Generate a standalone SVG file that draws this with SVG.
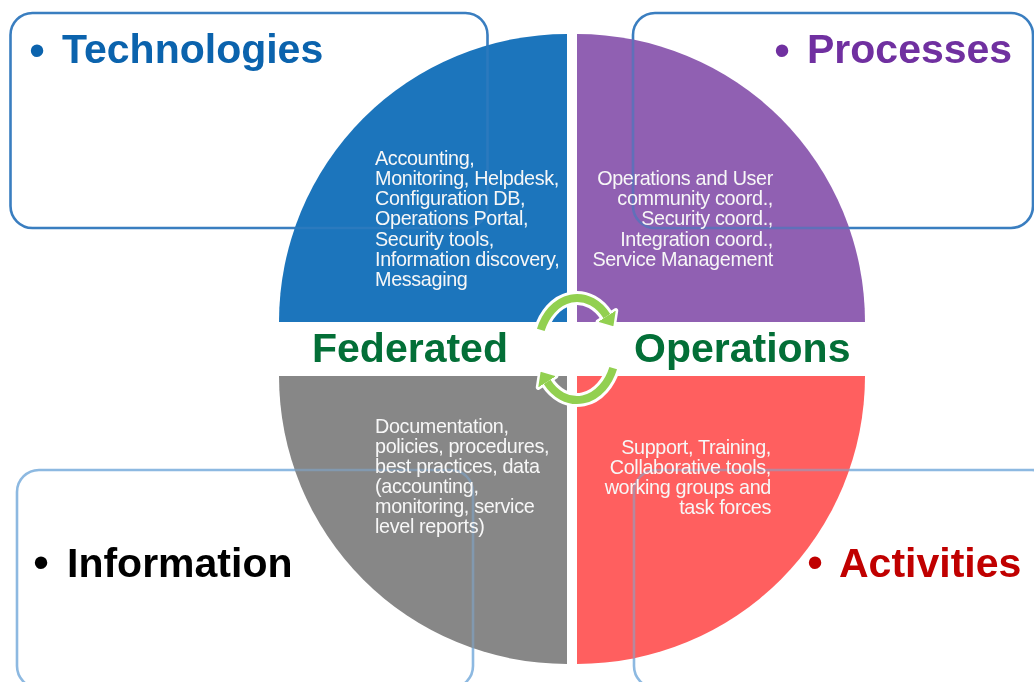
<svg xmlns="http://www.w3.org/2000/svg" width="1034" height="682" viewBox="0 0 1034 682">
<style>
.box{fill:none;stroke-width:2.6}
.boxTop{stroke:#3A7EC0}
.boxBot{stroke:#8DB9E1}
.over{fill:none;stroke-width:2.6;mix-blend-mode:multiply}
.head{font-family:"Liberation Sans",Arial,sans-serif;font-size:41px;font-weight:bold}
.bul{font-family:"Liberation Sans",Arial,sans-serif;font-size:46px}
.q{font-family:"Liberation Sans",Arial,sans-serif;font-size:19.8px;fill:#F7F7F7;letter-spacing:-0.35px}
.fo{font-family:"Liberation Sans",Arial,sans-serif;font-size:41px;font-weight:bold;fill:#036F37}
.ring{fill:none;stroke:#92D050;stroke-width:8}
.halo{fill:none;stroke:#FFFFFF;stroke-width:14}
</style>
<defs>
<marker id="ah" markerUnits="userSpaceOnUse" viewBox="0 0 12 21" refX="0" refY="10.5" markerWidth="12" markerHeight="21" orient="auto">
<path d="M0,0 L12,10.5 L0,21 Z" fill="#92D050"/>
</marker>
<marker id="ahw" markerUnits="userSpaceOnUse" viewBox="-3 -3 18 27" refX="0" refY="10.5" markerWidth="18" markerHeight="27" orient="auto">
<path d="M0,0 L12,10.5 L0,21 Z" fill="#FFFFFF" stroke="#FFFFFF" stroke-width="5" stroke-linejoin="round"/>
</marker>
<clipPath id="circ">
<path d="M567,322 L279,322 A288,288 0 0 1 567,34 Z M577,322 L577,34 A288,288 0 0 1 865,322 Z M567,376 L567,664 A288,288 0 0 1 279,376 Z M577,376 L865,376 A288,288 0 0 1 577,664 Z"/>
</clipPath>
</defs>
<rect width="1034" height="682" fill="#FFFFFF"/>

<g id="box-technologies">
<rect class="box boxTop" x="10.5" y="13" width="477" height="215" rx="22"/>
<text class="bul" x="29" y="66" fill="#0B63AD">•</text>
<text class="head" x="62" y="63" fill="#0B63AD">Technologies</text>
</g>
<g id="box-processes">
<rect class="box boxTop" x="633" y="13" width="400" height="215" rx="22"/>
<text class="bul" x="774" y="66" fill="#7030A0">•</text>
<text class="head" x="807" y="63" fill="#7030A0">Processes</text>
</g>
<g id="box-information">
<rect class="box boxBot" x="17" y="470" width="456" height="218" rx="22"/>
<text class="bul" x="33" y="578" fill="#000000">•</text>
<text class="head" x="67" y="577" fill="#000000">Information</text>
</g>
<g id="box-activities">
<rect class="box boxBot" x="634" y="470" width="420" height="218" rx="22"/>
<text class="bul" x="807" y="578" fill="#C00000">•</text>
<text class="head" x="839" y="577" fill="#C00000">Activities</text>
</g>

<g id="quadrant-technologies">
<path d="M567,322 L279,322 A288,288 0 0 1 567,34 Z" fill="#1C75BC"/>
</g>
<g id="quadrant-processes">
<path d="M577,322 L577,34 A288,288 0 0 1 865,322 Z" fill="#9060B2"/>
</g>
<g id="quadrant-information">
<path d="M567,376 L567,664 A288,288 0 0 1 279,376 Z" fill="#878787"/>
</g>
<g id="quadrant-activities">
<path d="M577,376 L865,376 A288,288 0 0 1 577,664 Z" fill="#FF5F5F"/>
</g>

<g id="box-outlines-through" clip-path="url(#circ)" opacity="0.55">
<rect class="over" x="10.5" y="13" width="477" height="215" rx="22" stroke="#3A7EC0"/>
<rect class="over" x="633" y="13" width="400" height="215" rx="22" stroke="#3A7EC0"/>
<rect class="over" x="17" y="470" width="456" height="218" rx="22" stroke="#7FA8CF"/>
<rect class="over" x="634" y="470" width="420" height="218" rx="22" stroke="#7FA8CF"/>
</g>

<g id="text-technologies">
<text class="q" x="375" y="165">Accounting,</text>
<text class="q" x="375" y="185">Monitoring, Helpdesk,</text>
<text class="q" x="375" y="205">Configuration DB,</text>
<text class="q" x="375" y="225">Operations Portal,</text>
<text class="q" x="375" y="246">Security tools,</text>
<text class="q" x="375" y="266">Information discovery,</text>
<text class="q" x="375" y="286">Messaging</text>
</g>
<g id="text-processes" text-anchor="end">
<text class="q" x="773" y="185">Operations and User</text>
<text class="q" x="773" y="205">community coord.,</text>
<text class="q" x="773" y="225">Security coord.,</text>
<text class="q" x="773" y="246">Integration coord.,</text>
<text class="q" x="773" y="266">Service Management</text>
</g>
<g id="text-information">
<text class="q" x="375" y="433">Documentation,</text>
<text class="q" x="375" y="453">policies, procedures,</text>
<text class="q" x="375" y="473">best practices, data</text>
<text class="q" x="375" y="493">(accounting,</text>
<text class="q" x="375" y="513">monitoring, service</text>
<text class="q" x="375" y="533">level reports)</text>
</g>
<g id="text-activities" text-anchor="end">
<text class="q" x="771" y="454">Support, Training,</text>
<text class="q" x="771" y="474">Collaborative tools,</text>
<text class="q" x="771" y="494">working groups and</text>
<text class="q" x="771" y="514">task forces</text>
</g>

<g id="connectors">
<path class="halo" d="M540.8,329.9 A39,51 0 0 1 606.9,316.2" marker-end="url(#ahw)"/>
<path class="halo" d="M613.2,368.1 A39,51 0 0 1 547.1,381.8" marker-end="url(#ahw)"/>
<path class="ring" d="M540.8,329.9 A39,51 0 0 1 606.9,316.2" marker-end="url(#ah)"/>
<path class="ring" d="M613.2,368.1 A39,51 0 0 1 547.1,381.8" marker-end="url(#ah)"/>
</g>

<g id="title">
<text class="fo" x="312" y="362">Federated</text>
<text class="fo" x="634" y="362">Operations</text>
</g>
</svg>
